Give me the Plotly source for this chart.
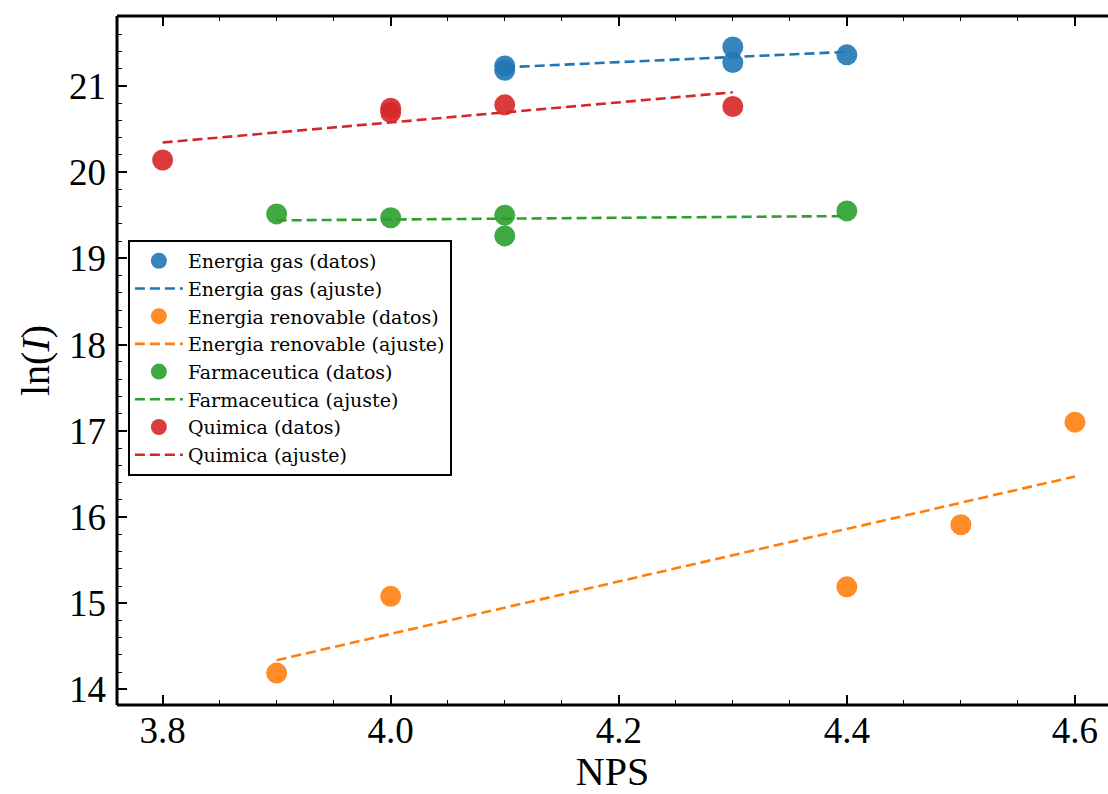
import plotly.graph_objects as go

# NPS vs ln(I) per sector: observed points and fitted straight line end-points
gas_x = [4.1, 4.1, 4.3, 4.3, 4.4]
gas_y = [21.23, 21.18, 21.45, 21.27, 21.36]
gas_fit_x = [4.1, 4.4]
gas_fit_y = [21.215, 21.394]

ren_x = [3.9, 4.0, 4.4, 4.5, 4.6]
ren_y = [14.19, 15.08, 15.19, 15.91, 17.10]
ren_fit_x = [3.9, 4.6]
ren_fit_y = [14.34, 16.47]

farma_x = [3.9, 4.0, 4.1, 4.1, 4.4]
farma_y = [19.515, 19.47, 19.50, 19.26, 19.55]
farma_fit_x = [3.9, 4.4]
farma_fit_y = [19.44, 19.49]

quim_x = [3.8, 4.0, 4.0, 4.1, 4.3]
quim_y = [20.14, 20.74, 20.69, 20.78, 20.76]
quim_fit_x = [3.8, 4.3]
quim_fit_y = [20.343, 20.925]

series = [
    ("Energia gas", "#1f77b4", gas_x, gas_y, gas_fit_x, gas_fit_y),
    ("Energia renovable", "#ff7f0e", ren_x, ren_y, ren_fit_x, ren_fit_y),
    ("Farmaceutica", "#2ca02c", farma_x, farma_y, farma_fit_x, farma_fit_y),
    ("Quimica", "#d62728", quim_x, quim_y, quim_fit_x, quim_fit_y),
]

x_ticks = [3.8, 4.0, 4.2, 4.4, 4.6]
x_tick_text = ["3.8", "4.0", "4.2", "4.4", "4.6"]
y_ticks = [14, 15, 16, 17, 18, 19, 20, 21]

FONT = "Liberation Serif, DejaVu Serif, serif"
LEGEND_FONT = "DejaVu Serif, serif"

fig = go.Figure()
for name, color, xs, ys, fx, fy in series:
    fig.add_trace(go.Scatter(
        x=xs, y=ys, mode="markers", name=f"{name} (datos)",
        marker=dict(size=21, color=color, opacity=0.9, line=dict(width=0)),
    ))
    fig.add_trace(go.Scatter(
        x=fx, y=fy, mode="lines", name=f"{name} (ajuste)",
        line=dict(color=color, width=2.6, dash="10px,5px"),
    ))

axis_common = dict(
    showline=False,
    ticks="inside", ticklen=10, tickwidth=1.5, tickcolor="black",
    showgrid=False, zeroline=False,
    tickfont=dict(family=FONT, size=37, color="black"),
)

fig.update_xaxes(
    **axis_common,
    range=[3.76, 4.629],
    tickvals=x_ticks, ticktext=x_tick_text,
    mirror="ticks",
    ticklabelstandoff=0,
    minor=dict(ticks="inside", dtick=0.05, tick0=3.8, ticklen=5, tickwidth=1.2,
               tickcolor="black", showgrid=False),
    title=dict(text="NPS", font=dict(family=FONT, size=40, color="black"), standoff=2),
)
fig.update_yaxes(
    **axis_common,
    range=[13.82, 21.81],
    tickvals=y_ticks,
    ticklabelstandoff=10,
    minor=dict(ticks="inside", dtick=0.2, tick0=14, ticklen=5, tickwidth=1.2,
               tickcolor="black", showgrid=False),
    title=dict(text="ln(<i>I</i>)", font=dict(family=FONT, size=40, color="black"), standoff=7),
)

# axes frame: left, bottom and top spines (open on the right)
spine = dict(color="black", width=3)
fig.add_shape(type="line", xref="paper", yref="paper", x0=0, x1=0, y0=0, y1=1, line=spine)
fig.add_shape(type="line", xref="paper", yref="paper", x0=0, x1=1, y0=0, y1=0, line=spine)
fig.add_shape(type="line", xref="paper", yref="paper", x0=0, x1=1, y0=1, y1=1, line=spine)

fig.update_layout(
    width=1108, height=794,
    margin=dict(l=117, r=0, t=16, b=89),
    paper_bgcolor="white", plot_bgcolor="white",
    legend=dict(
        x=0.011, y=0.675, xanchor="left", yanchor="top",
        bgcolor="white", bordercolor="black", borderwidth=2,
        font=dict(family=LEGEND_FONT, size=19, color="black"),
        tracegroupgap=0, itemwidth=48,
    ),
)

fig.write_html("out.html")
